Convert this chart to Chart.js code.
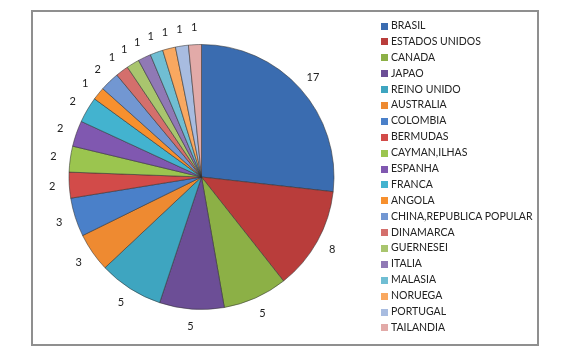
<!DOCTYPE html>
<html>
<head>
<meta charset="utf-8">
<script src="https://cdn.jsdelivr.net/npm/chart.js@4"></script>
<style>
  html, body { margin: 0; padding: 0; background: #fff; }
  #wrap { position: relative; width: 576px; height: 359px; }
  #frame { position: absolute; left: 31px; top: 10px; width: 504px; height: 332px; border: 2px solid #8f8f8f; }
  #legend { position: absolute; left: 381px; top: 18px; font-family: Lato, "Open Sans", sans-serif; font-size: 10.5px; color: #222; }
  .item { height: 15.9px; line-height: 15.9px; white-space: nowrap; }
  .box { display: inline-block; width: 7px; height: 7px; margin-right: 3px; vertical-align: -0.5px; }
</style>
</head>
<body>
<div id="wrap">
  <div id="frame"></div>
  <canvas id="myChart" width="576" height="359"></canvas>
  <div id="legend"></div>
</div>
<script>
// countries, in the order of the legend / slices
const countries = ["BRASIL", "ESTADOS UNIDOS", "CANADA", "JAPAO", "REINO UNIDO", "AUSTRALIA",
    "COLOMBIA", "BERMUDAS", "CAYMAN,ILHAS", "ESPANHA", "FRANCA", "ANGOLA",
    "CHINA,REPUBLICA POPULAR", "DINAMARCA", "GUERNESEI", "ITALIA", "MALASIA",
    "NORUEGA", "PORTUGAL", "TAILANDIA"];
// china slice looks about as thin as the 1s but is labelled 2 -> 1.5 shown rounded
const counts = [17, 8, 5, 5, 5, 3, 3, 2, 2, 2, 2, 1, 1.5, 1, 1, 1, 1, 1, 1, 1];
const sliceColors = ["#3a6cb0", "#b93d3b", "#8cb046", "#6c4e96", "#3ea5c0", "#ee8a31",
    "#4a80c9", "#d24b49", "#9bc54f", "#8058b0", "#43b3cf", "#f7902e",
    "#7297d2", "#d46f6c", "#a9c56e", "#9079b5", "#70bed3", "#f9a860",
    "#a8bce0", "#e2aaa8"];

// draws the value of each slice just outside it
const outsideLabels = {
    id: "outsideLabels",
    afterDatasetsDraw(chart) {
        const ctx = chart.ctx;
        const meta = chart.getDatasetMeta(0);
        ctx.save();
        ctx.font = "11px Lato, 'Open Sans', sans-serif";
        ctx.fillStyle = "#222";
        ctx.textAlign = "center";
        ctx.textBaseline = "middle";
        meta.data.forEach((arc, i) => {
            const mid = (arc.startAngle + arc.endAngle) / 2;
            const r = arc.outerRadius + 17;
            ctx.fillText(String(Math.round(counts[i])), arc.x + Math.cos(mid) * r, arc.y + Math.sin(mid) * r);
        });
        ctx.restore();
    }
};

const ctx = document.getElementById("myChart").getContext("2d");
const chart = new Chart(ctx, {
    type: "pie",
    data: {
        labels: countries,
        datasets: [{
            data: counts,
            backgroundColor: sliceColors,
            borderColor: "rgba(50,50,50,0.55)",
            borderWidth: 1
        }]
    },
    options: {
        responsive: false,
        animation: false,
        layout: { padding: { left: 68, right: 241, top: 44, bottom: 49 } },
        plugins: {
            legend: { display: false },
            tooltip: { enabled: false }
        }
    },
    plugins: [outsideLabels]
});

// legend as html, built from the same arrays
const legendDiv = document.getElementById("legend");
countries.forEach((name, i) => {
    const row = document.createElement("div");
    row.className = "item";
    row.innerHTML = `<span class="box" style="background:${sliceColors[i]}"></span>${name}`;
    legendDiv.appendChild(row);
});
</script>
</body>
</html>
